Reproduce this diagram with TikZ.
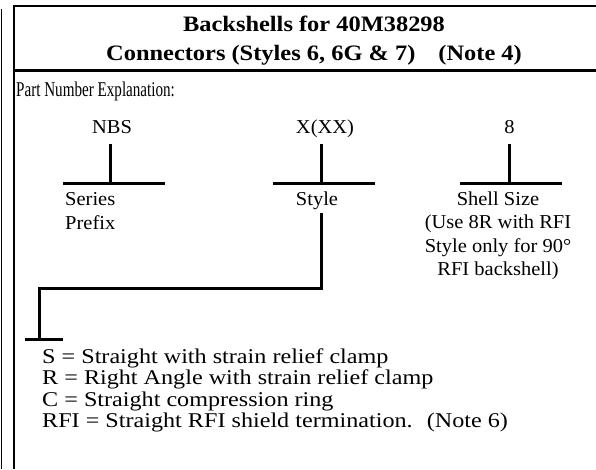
\documentclass[tikz,border=0pt]{standalone}
\usepackage{fontspec}
\setmainfont{Liberation Serif}
\newfontfamily\ttlfont{Liberation Serif}[FakeStretch=1.11]
\newfontfamily\lstfont{Liberation Serif}[FakeStretch=1.15]
\newfontfamily\lblfont{Liberation Serif}[FakeStretch=1.04]
\newfontfamily\pnefont{Liberation Serif}[FakeStretch=0.72]
\begin{document}
\begin{tikzpicture}[x=1pt,y=-1pt,
  lbl/.style={inner sep=0pt, anchor=base, font=\lblfont\fontsize{19.7}{23}\selectfont},
  lblw/.style={inner sep=0pt, anchor=base west, font=\lblfont\fontsize{19.7}{23}\selectfont},
  ttl/.style={inner sep=0pt, anchor=base, font=\ttlfont\bfseries\fontsize{22}{27}\selectfont},
  lst/.style={inner sep=0pt, anchor=base west, font=\lstfont\fontsize{21}{21}\selectfont},
  bar/.style={line width=3pt},
  thin/.style={line width=1.2pt}]
\useasboundingbox (0,0) rectangle (596,469);
% frame
\coordinate (ol1) at (1.5,9);
\coordinate (ol2) at (1.5,469);
\draw[thin] (ol1) -- (ol2);
\coordinate (bl1) at (13.8,5);
\coordinate (bl2) at (13.8,469);
\draw[line width=1.4pt] (bl1) -- (bl2);
\coordinate (tl1) at (13,6);
\coordinate (tl2) at (596,6);
\draw[line width=2pt] (tl1) -- (tl2);
\coordinate (sp1) at (13,70.5);
\coordinate (sp2) at (596,70.5);
\draw[bar] (sp1) -- (sp2);
% titles
\node[ttl] (t1) at (314,31) {Backshells for 40M38298};
\node[ttl] (t2) at (314,60) {Connectors (Styles 6, 6G \& 7)\hspace{23pt}(Note 4)};
\node[inner sep=0pt, anchor=base west, font=\pnefont\fontsize{21}{23}\selectfont] (pne) at (16,96) {Part Number Explanation:};
% part number fields
\node[lbl] (nbs) at (112,133) {NBS};
\node[lbl] (xxx) at (325,133) {X(XX)};
\node[lbl] (eight) at (509.5,133) {8};
% brackets
\coordinate (n1) at (110,144);
\coordinate (n2) at (110,183.5);
\coordinate (n3) at (63,183.5);
\coordinate (n4) at (165,183.5);
\draw[bar] (n1) -- (n2);
\draw[bar] (n3) -- (n4);
\coordinate (x1) at (321,144);
\coordinate (x2) at (321,183.5);
\coordinate (x3) at (273,183.5);
\coordinate (x4) at (375,183.5);
\draw[bar] (x1) -- (x2);
\draw[bar] (x3) -- (x4);
\coordinate (e1) at (509,144);
\coordinate (e2) at (509,183.5);
\coordinate (e3) at (460,183.5);
\coordinate (e4) at (562,183.5);
\draw[bar] (e1) -- (e2);
\draw[bar] (e3) -- (e4);
% labels
\node[lblw] (ser) at (65,205) {Series};
\node[lblw] (pre) at (65,229) {Prefix};
\node[lbl] (sty) at (317,205) {Style};
\node[lbl] (sh1) at (498,205) {Shell Size};
\node[lbl] (sh2) at (498,228.5) {(Use 8R with RFI};
\node[lbl] (sh3) at (498,252) {Style only for 90°};
\node[lbl] (sh4) at (498,275.5) {RFI backshell)};
% style connector
\coordinate (s1) at (321,213);
\coordinate (s2) at (321,288);
\coordinate (s3) at (39.5,288);
\coordinate (s4) at (39.5,339);
\draw[bar] (s1) -- (s2) -- (s3) -- (s4);
\coordinate (tt1) at (25,339);
\coordinate (tt2) at (63,339);
\draw[bar] (tt1) -- (tt2);
% list
\node[lst] (ls) at (42,363) {S = Straight with strain relief clamp};
\node[lst] (lr) at (42,384.5) {R = Right Angle with strain relief clamp};
\node[lst] (lc) at (42,406) {C = Straight compression ring};
\node[lst] (lrfi) at (42,427.5) {RFI = Straight RFI shield termination.~ (Note 6)};
\end{tikzpicture}
\end{document}
